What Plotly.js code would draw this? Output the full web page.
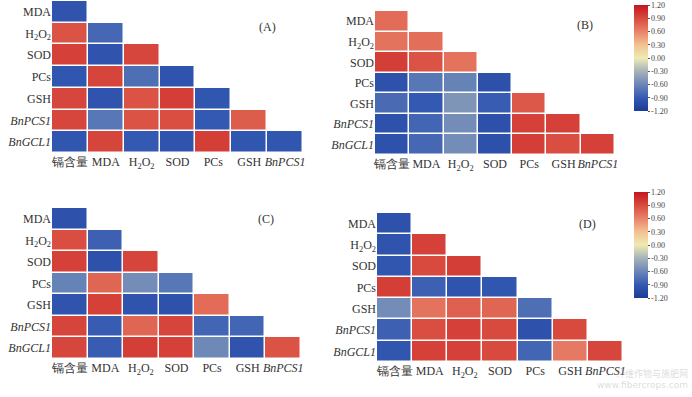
<!DOCTYPE html>
<html>
<head>
<meta charset="utf-8">
<script src="https://cdn.plot.ly/plotly-3.0.1.min.js"></script>
<style>html,body{margin:0;padding:0;background:#fff;}#chart{width:692px;height:397px;}</style>
</head>
<body>
<div id="chart"></div>
<script>
// Column (x) and row (y) labels
var xLabels = ['镉含量', 'MDA', 'H<sub>2</sub>O<sub>2</sub>', 'SOD', 'PCs', 'GSH', '<i>BnPCS1</i>'];
var yLabels = ['MDA', 'H<sub>2</sub>O<sub>2</sub>', 'SOD', 'PCs', 'GSH', '<i>BnPCS1</i>', '<i>BnGCL1</i>'];
var colorTicks = [-1.2, -0.9, -0.6, -0.3, 0, 0.3, 0.6, 0.9, 1.2];
var colorTickText = ['-1.20', '-0.90', '-0.60', '-0.30', '0.00', '0.30', '0.60', '0.90', '1.20'];

// Lower-triangular correlation values, row by row
var corrA = [
  [-0.95],
  [0.85, -0.80],
  [0.95, -0.95, 0.92],
  [-0.93, 0.93, -0.75, -0.95],
  [0.92, -0.95, 0.85, 0.97, -0.93],
  [0.92, -0.70, 0.85, 0.88, -0.90, 0.80],
  [-0.93, 0.93, -0.90, -0.95, 0.97, -0.93, -0.93]
];
var corrB = [
  [0.72],
  [0.68, 0.70],
  [0.97, 0.85, 0.68],
  [-0.97, -0.70, -0.62, -0.98],
  [-0.78, -0.90, -0.50, -0.88, 0.82],
  [-0.97, -0.82, -0.55, -0.98, 0.95, 0.95],
  [-0.97, -0.80, -0.55, -0.98, 0.97, 0.88, 0.95]
];
var corrC = [
  [-0.97],
  [0.88, -0.85],
  [0.95, -0.97, 0.93],
  [-0.62, 0.75, -0.55, -0.70],
  [-0.95, 0.95, -0.95, -0.97, 0.72],
  [0.93, -0.88, 0.75, 0.93, -0.82, -0.82],
  [0.92, -0.88, 0.97, 0.95, -0.58, -0.95, 0.85]
];
var corrD = [
  [-0.97],
  [-0.95, 0.95],
  [-0.93, 0.90, 0.97],
  [0.97, -0.85, -0.95, -0.93],
  [-0.55, 0.68, 0.78, 0.75, -0.75],
  [-0.85, 0.88, 0.95, 0.90, -0.97, 0.90],
  [-0.93, 0.95, 0.95, 0.90, -0.82, 0.65, 0.92]
];

var colorscale = [
  [0, '#1a3c98'], [0.125, '#3459b2'], [0.25, '#6a86b8'], [0.375, '#a6b2b8'],
  [0.5, '#eeeab4'], [0.625, '#f3c190'], [0.75, '#e8826a'], [0.875, '#d84a3e'], [1, '#c3151e']
];

function fullMatrix(tri) {
  return tri.map(function (row) {
    var r = [];
    for (var j = 0; j < xLabels.length; j++) r.push(j < row.length ? row[j] : null);
    return r;
  });
}
var idxX = xLabels.map(function (_, i) { return i; });
var idxY = yLabels.map(function (_, i) { return i; });

var font = {family: 'Liberation Serif, Times New Roman, serif', size: 12, color: '#333'};

function trace(tri, n, showScale, cbY, cbLen) {
  var t = {
    type: 'heatmap', z: fullMatrix(tri), x: idxX, y: idxY,
    xaxis: 'x' + (n === 1 ? '' : n), yaxis: 'y' + (n === 1 ? '' : n),
    colorscale: colorscale, zmin: -1.2, zmax: 1.2001, xgap: 1.5, ygap: 1.5,
    showscale: showScale, hoverongaps: false
  };
  if (showScale) {
    t.colorbar = {
      x: 634 / 692, xanchor: 'left', y: cbY, yanchor: 'top', len: cbLen, lenmode: 'fraction',
      thickness: 14, outlinewidth: 0, ticks: 'outside', ticklen: 2, tickcolor: '#555',
      tickvals: colorTicks, ticktext: colorTickText,
      tickfont: {family: 'Liberation Serif, serif', size: 8, color: '#444'}, xpad: 0, ypad: 0
    };
  }
  return t;
}

var data = [
  trace(corrA, 1, false),
  trace(corrB, 2, true, 1 - 5 / 397, 106 / 397),
  trace(corrC, 3, false),
  trace(corrD, 4, true, 1 - 192 / 397, 106 / 397)
];

function xa(domain, anchor) {
  return {domain: domain, anchor: anchor, range: [-0.5, 6.5], tickvals: idxX, ticktext: xLabels,
    tickangle: 0, showgrid: false, zeroline: false, showline: false, ticks: '', tickfont: font, fixedrange: true};
}
function ya(domain, anchor) {
  return {domain: domain, anchor: anchor, range: [6.5, -0.5], tickvals: idxY, ticktext: yLabels,
    showgrid: false, zeroline: false, showline: false, ticks: '', tickfont: font, fixedrange: true};
}
var W = 692, H = 397;
function dx(a, b) { return [a / W, b / W]; }
function dy(top, bottom) { return [1 - bottom / H, 1 - top / H]; }

var layout = {
  width: W, height: H, margin: {l: 0, r: 0, t: 0, b: 0},
  paper_bgcolor: '#fff', plot_bgcolor: '#fff', showlegend: false,
  xaxis: xa(dx(52, 303), 'y'), yaxis: ya(dy(1, 153), 'x'),
  xaxis2: xa(dx(375, 615), 'y2'), yaxis2: ya(dy(11, 155), 'x2'),
  xaxis3: xa(dx(52, 301), 'y3'), yaxis3: ya(dy(208, 359), 'x3'),
  xaxis4: xa(dx(377, 623), 'y4'), yaxis4: ya(dy(213, 362), 'x4'),
  annotations: [
    {text: '(A)', x: 267 / W, y: 1 - 18 / H, xref: 'paper', yref: 'paper', showarrow: false, font: font},
    {text: '(B)', x: 595 / W, y: 1 - 16 / H, xref: 'paper', yref: 'paper', showarrow: false, font: font},
    {text: '(C)', x: 266 / W, y: 1 - 219 / H, xref: 'paper', yref: 'paper', showarrow: false, font: font},
    {text: '(D)', x: 598 / W, y: 1 - 224 / H, xref: 'paper', yref: 'paper', showarrow: false, font: font},
    {text: '纤维作物与施肥网', x: 690 / W, y: 1 - 382 / H, xref: 'paper', yref: 'paper', xanchor: 'right',
      showarrow: false, font: {family: 'Noto Sans CJK SC, sans-serif', size: 9, color: 'rgba(150,150,150,0.35)'}},
    {text: 'www.fibercrops.com', x: 690 / W, y: 1 - 392 / H, xref: 'paper', yref: 'paper', xanchor: 'right',
      showarrow: false, font: {family: 'DejaVu Sans, sans-serif', size: 9, color: 'rgba(150,150,150,0.35)'}}
  ]
};

Plotly.newPlot('chart', data, layout, {displayModeBar: false, staticPlot: true});
</script>
</body>
</html>
